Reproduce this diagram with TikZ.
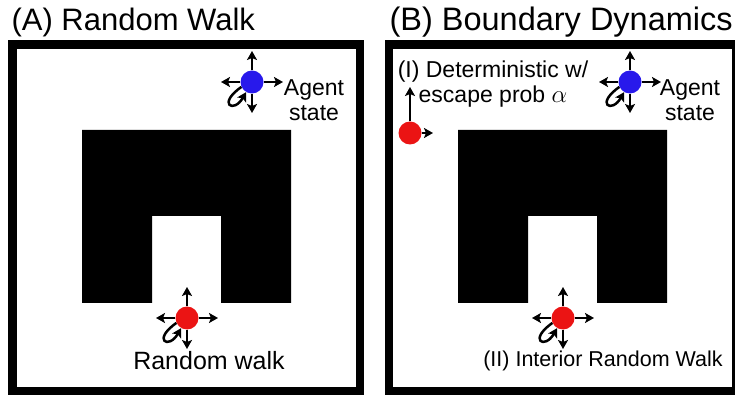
\documentclass[tikz,border=0pt]{standalone}
\usepackage{fontspec}
\setmainfont{Liberation Sans}
\usetikzlibrary{arrows.meta}

\definecolor{agentblue}{RGB}{40,25,235}
\definecolor{walkred}{RGB}{235,20,20}

\tikzset{
  wall/.style={draw=black,line width=8.5pt},
  block/.style={fill=black},
  agent/.style={circle,fill=agentblue,minimum size=23pt,inner sep=0pt},
  walker/.style={circle,fill=walkred,minimum size=23pt,inner sep=0pt},
  move/.style={-{Stealth[length=9pt,width=10pt,inset=2pt]},line width=2.5pt},
  title/.style={anchor=base west,font=\fontsize{31}{34}\selectfont},
  label/.style={align=center,font=\fontsize{23}{25}\selectfont}
}

\begin{document}
\begin{tikzpicture}[x=1pt,y=1pt]
\useasboundingbox (0,0) rectangle (735,396);
\clip (0,0) rectangle (735,396);

% frames and obstacles
\draw [wall] (12.5,5) rectangle (360,351.5);
\draw [wall] (389,5) rectangle (736.5,351.5);
\fill [block] (82,266) -- (291,266) -- (291,93) -- (221,93) -- (221,180)
              -- (152,180) -- (152,93) -- (82,93) -- cycle;
\fill [block] (458,266) -- (667,266) -- (667,93) -- (597,93) -- (597,180)
              -- (528,180) -- (528,93) -- (458,93) -- cycle;

% titles
\node [title] (titleA) at (8,365) {(A) Random Walk};
\node [title,font=\fontsize{32.5}{34}\selectfont] (titleB) at (386,365) {(B) Boundary Dynamics};

% (A) random walk
\node [agent] (agentA) at (252,314) {};
\node [walker] (walkA) at (187,78) {};
\foreach \n in {agentA,walkA} {
  \draw [move] (\n) -- +(0,31);
  \draw [move] (\n) -- +(0,-31);
  \draw [move] (\n) -- +(-31,0);
  \draw [move] (\n) -- +(31,0);
  \draw [move] (\n.205) .. controls +(215:30) and +(240:25) .. (\n.240);
}
\node [label] (stateA) at (314,296) {Agent\\state};
\node [label,font=\fontsize{25}{27}\selectfont] (textA) at (209,35) {Random walk};

% (B) boundary dynamics
\node [agent] (agentB) at (630,314) {};
\node [walker] (walkB) at (563,78) {};
\foreach \n in {agentB,walkB} {
  \draw [move] (\n) -- +(0,31);
  \draw [move] (\n) -- +(0,-31);
  \draw [move] (\n) -- +(-31,0);
  \draw [move] (\n) -- +(31,0);
  \draw [move] (\n.205) .. controls +(215:30) and +(240:25) .. (\n.240);
}
\node [walker] (edgeB) at (410,263) {};
\coordinate (edgeUp) at (410,309);
\coordinate (edgeRight) at (433,263);
\draw [move] (edgeB) -- (edgeUp);
\draw [move] (edgeB) -- (edgeRight);
\node [label] (stateB) at (690,296) {Agent\\state};
\node [label] (textI) at (493,312) {(I) Deterministic w/\\escape prob $\alpha$};
\node [label,font=\fontsize{21.5}{23}\selectfont] (textII) at (603,35) {(II) Interior Random Walk};
\end{tikzpicture}
\end{document}
